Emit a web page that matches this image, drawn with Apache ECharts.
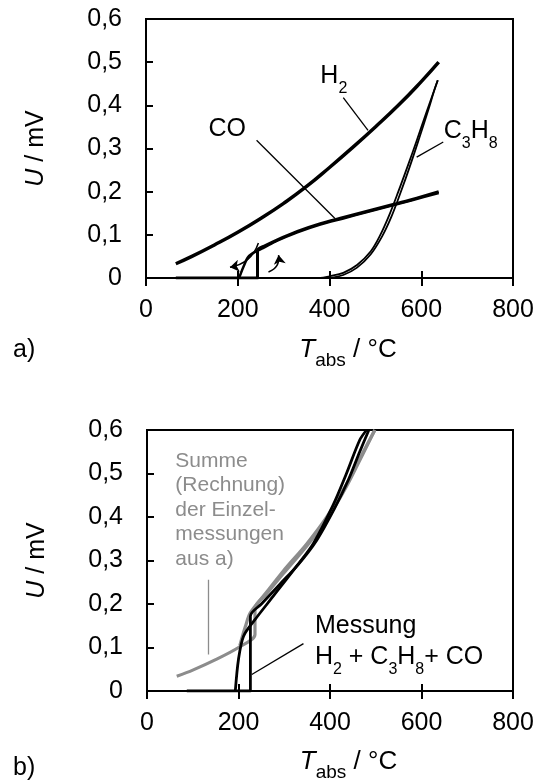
<!DOCTYPE html>
<html>
<head>
<meta charset="utf-8">
<script src="https://cdn.jsdelivr.net/npm/echarts@6/dist/echarts.min.js"></script>
<style>
    html, body { margin: 0; padding: 0; background: #fff; }
    #main { width: 541px; height: 783px; }
</style>
</head>
<body>
<div id="main"></div>
<script>
    var FONT = '"Liberation Sans", Arial, Helvetica, sans-serif';
    var GRAY = '#8c8c8c';

    // ticks
    var xTickValues = [0, 200, 400, 600, 800];
    var yTickLabels = ['0', '0,1', '0,2', '0,3', '0,4', '0,5', '0,6'];

    // a) single gases, [T_abs / °C, U / mV]
    var h2 = [[65, 0.033], [100, 0.050], [150, 0.077], [200, 0.106], [250, 0.138], [300, 0.173], [350, 0.212],
        [400, 0.256], [450, 0.302], [500, 0.350], [550, 0.400], [600, 0.455], [638, 0.500]];
    var coHeat = [[65, 0], [243, 0], [243, 0.064], [260, 0.075], [285, 0.088], [330, 0.108], [380, 0.126],
        [430, 0.140], [480, 0.154], [530, 0.168], [580, 0.182], [638, 0.200]];
    var coCool = [[638, 0.197], [580, 0.180], [530, 0.166], [480, 0.152], [430, 0.138], [380, 0.124], [330, 0.106],
        [285, 0.086], [255, 0.069], [240, 0.062], [223, 0.049], [212, 0.025], [205, 0.006], [203, 0]];
    var c3h8Heat = [[65, 0], [380, 0], [400, 0.004], [430, 0.012], [460, 0.030], [490, 0.062], [510, 0.098],
        [530, 0.145], [550, 0.200], [570, 0.258], [590, 0.318], [610, 0.380], [625, 0.425], [636, 0.458]];
    var c3h8Cool = [[636, 0.458], [630, 0.440], [615, 0.388], [595, 0.322], [575, 0.258], [555, 0.198], [535, 0.142],
        [515, 0.097], [490, 0.055], [460, 0.024], [430, 0.007], [400, 0]];

    // b) mixture vs. sum of a)
    var sumHeat = [[65, 0.034], [100, 0.048], [150, 0.072], [200, 0.100], [236, 0.130], [236, 0.190], [262, 0.224],
        [298, 0.270], [349, 0.333], [393, 0.394], [436, 0.470], [473, 0.547], [498, 0.600]];
    var sumCool = [[498, 0.600], [473, 0.550], [436, 0.475], [393, 0.400], [349, 0.338], [298, 0.276], [262, 0.228],
        [226, 0.180], [215, 0.148], [207, 0.120], [203, 0.105]];
    var measHeat = [[87, 0], [226, 0], [226, 0.172], [250, 0.200], [290, 0.245], [330, 0.290], [370, 0.345],
        [410, 0.420], [440, 0.485], [465, 0.550], [485, 0.600]];
    var measCool = [[480, 0.600], [465, 0.577], [436, 0.500], [407, 0.428], [364, 0.340], [327, 0.287], [276, 0.218],
        [236, 0.164], [211, 0.126], [200, 0.073], [193, 0]];

    // annotations, in data coordinates
    var leadersA = [[[430, 0.418], [484, 0.342]], [[241, 0.319], [412, 0.138]], [[648, 0.315], [590, 0.280]]];
    var arrowsA = [[[245, 0.081], [183, 0.025]], [[267, 0.014], [289, 0.053]]];
    var leaderSum = [[133, 0.256], [133, 0.084]];
    var leaderMeas = [[342, 0.109], [229, 0.038]];

    var labelsA = [
        { text: '{t|H}{s|2}', at: [380, 0.467] },
        { text: '{t|CO}', at: [136, 0.344] },
        { text: '{t|C}{s|3}{t|H}{s|8}', at: [649, 0.340] }
    ];
    var labelsB = [
        { text: '{t|Messung}', at: [367, 0.149] },
        { text: '{t|H}{s|2}{t| + C}{s|3}{t|H}{s|8}{t|+ CO}', at: [367, 0.077] }
    ];
    var sumText = 'Summe\n(Rechnung)\nder Einzel-\nmessungen\naus a)';
    var sumTextAt = [62, 0.557];

    var subRich = {
        t: { fontFamily: FONT, fontSize: 25, lineHeight: 40, verticalAlign: 'middle' },
        s: { fontFamily: FONT, fontSize: 16, lineHeight: 16, verticalAlign: 'bottom' }
    };

    function yAxisCfg(grid) {
        return {
            type: 'value', gridIndex: grid, min: 0, max: 0.6, interval: 0.1,
            name: '{i|U} / mV', nameLocation: 'middle', nameGap: 97, nameRotate: 90,
            nameTextStyle: {
                fontFamily: FONT, fontSize: 25, color: '#000',
                rich: { i: { fontFamily: FONT, fontSize: 25, fontStyle: 'italic' } }
            },
            axisLine: { show: true, lineStyle: { color: '#000', width: 2 } },
            axisTick: { show: true, inside: true, length: 7, lineStyle: { color: '#000', width: 2 } },
            axisLabel: {
                margin: 24, fontFamily: FONT, fontSize: 25, color: '#000',
                formatter: function(v){ return yTickLabels[Math.round(v * 10)]; }
            },
            splitLine: { show: false }
        };
    }

    function xAxisCfg(grid, gap) {
        return {
            type: 'value', gridIndex: grid, position: 'bottom',
            min: xTickValues[0], max: xTickValues[xTickValues.length - 1], interval: xTickValues[1] - xTickValues[0],
            name: '{i|T}{s|abs}{n| / °C}', nameLocation: 'middle', nameGap: gap,
            nameTextStyle: {
                fontFamily: FONT, fontSize: 26, color: '#000', padding: [0, 0, 0, 37],
                rich: {
                    i: { fontFamily: FONT, fontSize: 26, fontStyle: 'italic', lineHeight: 40, verticalAlign: 'middle' },
                    s: { fontFamily: FONT, fontSize: 19, lineHeight: 19, verticalAlign: 'bottom' },
                    n: { fontFamily: FONT, fontSize: 26, lineHeight: 40, verticalAlign: 'middle' }
                }
            },
            axisLine: { show: true, onZero: false, lineStyle: { color: '#000', width: 2 } },
            axisTick: { show: true, inside: false, length: 8, lineStyle: { color: '#000', width: 2 } },
            axisLabel: { margin: 20, fontFamily: FONT, fontSize: 25, color: '#000' },
            splitLine: { show: false }
        };
    }

    // second x axis: only the inner half of the crossing ticks
    function xInnerTicks(grid) {
        return {
            type: 'value', gridIndex: grid, position: 'bottom', offset: 0,
            min: xTickValues[0], max: xTickValues[xTickValues.length - 1], interval: xTickValues[1] - xTickValues[0],
            axisLine: { show: false },
            axisTick: { show: true, inside: true, length: 7, lineStyle: { color: '#000', width: 2 } },
            axisLabel: { show: false },
            splitLine: { show: false }
        };
    }

    function line(data, xi, yi, color, width, smooth) {
        return {
            type: 'line', data: data, xAxisIndex: xi, yAxisIndex: yi,
            symbol: 'none', showSymbol: false, smooth: smooth, clip: true, silent: true,
            lineStyle: { color: color, width: width, join: 'round' }
        };
    }

    function lines(data, xi, yi, color, width, opts) {
        var s = {
            type: 'lines', coordinateSystem: 'cartesian2d', xAxisIndex: xi, yAxisIndex: yi, silent: true,
            data: data.map(function(c){ return { coords: c }; }),
            symbol: 'none',
            lineStyle: { color: color, width: width, opacity: 1, curveness: 0 }
        };
        if (opts) {
            for (var k in opts) {
                if (k === 'curveness') s.lineStyle.curveness = opts[k];
                else s[k] = opts[k];
            }
        }
        return s;
    }

    var chart = echarts.init(document.getElementById('main'), null, { renderer: 'canvas' });

    var option = {
        animation: false,
        backgroundColor: '#fff',
        grid: [
            { left: 146, top: 19, width: 367, height: 259, show: true, borderColor: '#000', borderWidth: 2, backgroundColor: 'transparent' },
            { left: 147, top: 430, width: 366, height: 262, show: true, borderColor: '#000', borderWidth: 2, backgroundColor: 'transparent' }
        ],
        xAxis: [xAxisCfg(0, 52), xInnerTicks(0), xAxisCfg(1, 51), xInnerTicks(1)],
        yAxis: [yAxisCfg(0), yAxisCfg(1)],
        series: [
            line(h2, 0, 0, '#000', 3.5, 0.5),
            line(coHeat, 0, 0, '#000', 3, 0.3),
            line(coCool, 0, 0, '#000', 2.5, 0.3),
            line(c3h8Heat, 0, 0, '#000', 1.8, 0.35),
            line(c3h8Cool, 0, 0, '#000', 1.8, 0.35),
            lines(leadersA, 0, 0, '#000', 1.3),
            lines([arrowsA[0]], 0, 0, '#000', 1.5, { symbol: ['none', 'arrow'], symbolSize: 9, curveness: 0.3 }),
            lines([arrowsA[1]], 0, 0, '#000', 1.5, { symbol: ['none', 'arrow'], symbolSize: 9, curveness: -0.4 }),

            line(sumHeat, 2, 1, GRAY, 3.2, 0.3),
            line(sumCool, 2, 1, GRAY, 3.2, 0.3),
            line(measHeat, 2, 1, '#000', 2.8, 0.3),
            line(measCool, 2, 1, '#000', 2.8, 0.3),
            lines([leaderSum], 2, 1, GRAY, 1.3),
            lines([leaderMeas], 2, 1, '#000', 1.3)
        ]
    };
    chart.setOption(option);

    // text labels placed through the axes
    function px(seriesIndex, p) {
        return chart.convertToPixel({ seriesIndex: seriesIndex }, p);
    }

    var graphics = [];
    labelsA.forEach(function(l){
        var p = px(0, l.at);
        graphics.push({ type: 'text', x: p[0], y: p[1], silent: true,
            style: { text: l.text, rich: subRich, fill: '#000', align: 'left', verticalAlign: 'middle' } });
    });
    labelsB.forEach(function(l){
        var p = px(8, l.at);
        graphics.push({ type: 'text', x: p[0], y: p[1], silent: true,
            style: { text: l.text, rich: subRich, fill: '#000', align: 'left', verticalAlign: 'middle' } });
    });
    var sp = px(8, sumTextAt);
    graphics.push({ type: 'text', x: sp[0], y: sp[1], silent: true,
        style: { text: sumText, font: '21px ' + FONT, lineHeight: 24.5, fill: GRAY, align: 'left', verticalAlign: 'top' } });
    graphics.push({ type: 'text', left: 13, top: 338, silent: true,
        style: { text: 'a)', font: '25px ' + FONT, fill: '#000' } });
    graphics.push({ type: 'text', left: 13, top: 756, silent: true,
        style: { text: 'b)', font: '25px ' + FONT, fill: '#000' } });

    chart.setOption({ graphic: graphics });
</script>
</body>
</html>
